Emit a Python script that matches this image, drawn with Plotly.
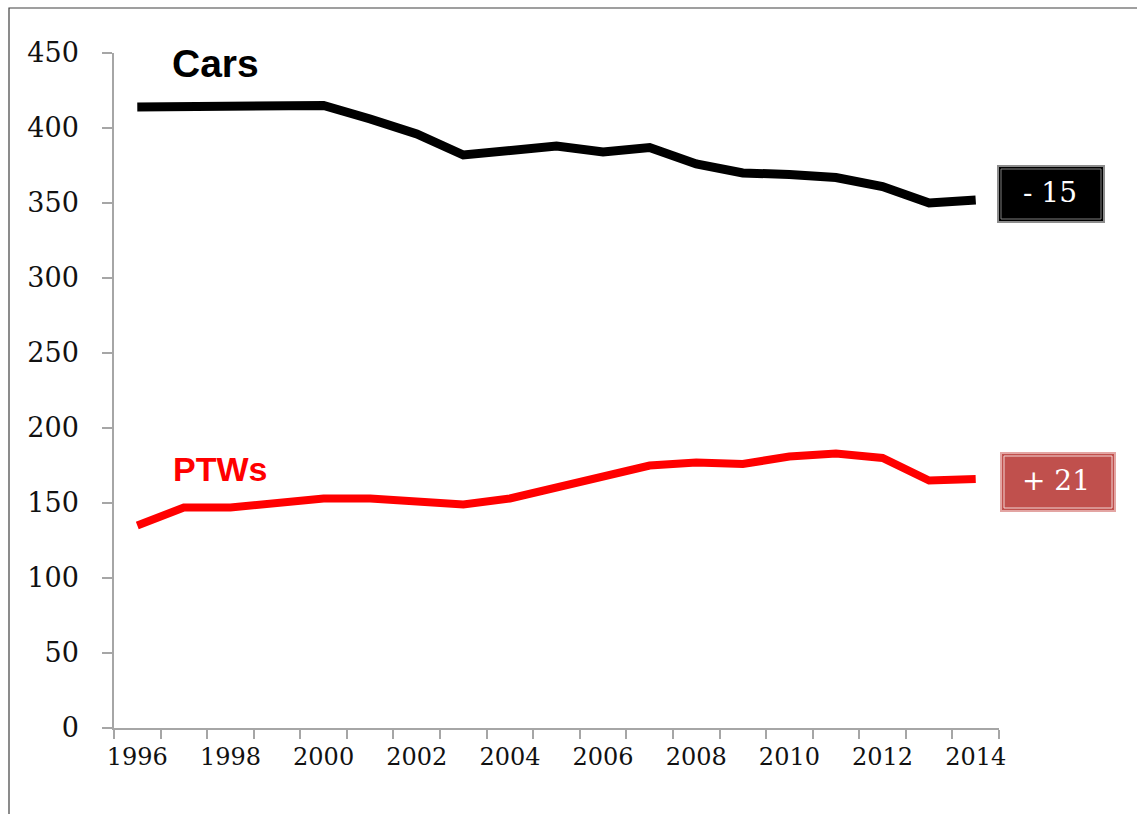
import plotly.graph_objects as go

# Annual values, 1996-2014
years = list(range(1996, 2015))
cars = [414, 414, 415, 415, 415, 406, 396, 382, 385, 388, 384, 387, 376, 370, 369, 367, 361, 350, 352]
ptws = [135, 147, 147, 150, 153, 153, 151, 149, 153, 160, 168, 175, 177, 176, 181, 183, 180, 165, 166]

y_ticks = list(range(0, 451, 50))
x_label_years = list(range(1996, 2015, 2))

car_change = "- 15"
ptw_change = "+ 21"

W, H = 1137, 814
L, R, T, B = 114, 138, 53, 86
PW, PH = W - L - R, H - T - B


def px(x):
    return (x - L) / PW


def py(y):
    return (H - B - y) / PH


fig = go.Figure()
fig.add_trace(go.Scatter(x=years, y=cars, mode="lines",
                         line=dict(color="#000000", width=9), name="Cars"))
fig.add_trace(go.Scatter(x=years, y=ptws, mode="lines",
                         line=dict(color="#FF0000", width=8), name="PTWs"))

shapes = []
# outer frame
shapes.append(dict(type="rect", xref="paper", yref="paper",
                   x0=px(9), x1=px(1145), y0=py(8), y1=py(830),
                   line=dict(color="#404040", width=1.2), fillcolor="rgba(0,0,0,0)"))
# change boxes
shapes.append(dict(type="rect", xref="paper", yref="paper",
                   x0=px(998), x1=px(1104), y0=py(166), y1=py(222),
                   line=dict(color="#8C8C8C", width=2), fillcolor="#000000"))
shapes.append(dict(type="rect", xref="paper", yref="paper",
                   x0=px(1001), x1=px(1101), y0=py(169), y1=py(219),
                   line=dict(color="#7F7F7F", width=1), fillcolor="rgba(0,0,0,0)"))
shapes.append(dict(type="rect", xref="paper", yref="paper",
                   x0=px(1001), x1=px(1115), y0=py(453), y1=py(511),
                   line=dict(color="#E3A5A3", width=2), fillcolor="#C0504D"))
shapes.append(dict(type="rect", xref="paper", yref="paper",
                   x0=px(1004), x1=px(1112), y0=py(456), y1=py(508),
                   line=dict(color="#F2D6D5", width=1), fillcolor="rgba(0,0,0,0)"))

annotations = [
    dict(text="<b>Cars</b>", xref="paper", yref="paper", x=px(170), y=py(64),
         xanchor="left", yanchor="middle", showarrow=False,
         font=dict(family="Liberation Sans, Arial", size=39, color="#000000")),
    dict(text="<b>PTWs</b>", xref="paper", yref="paper", x=px(171), y=py(469),
         xanchor="left", yanchor="middle", showarrow=False,
         font=dict(family="Liberation Sans, Arial", size=34, color="#FF0000")),
    dict(text=car_change, xref="paper", yref="paper", x=px(1050), y=py(193),
         xanchor="center", yanchor="middle", showarrow=False,
         font=dict(family="DejaVu Serif", size=28, color="#FFFFFF")),
    dict(text=ptw_change, xref="paper", yref="paper", x=px(1056), y=py(481),
         xanchor="center", yanchor="middle", showarrow=False,
         font=dict(family="DejaVu Serif", size=28, color="#FFFFFF")),
]

fig.update_layout(
    width=W, height=H,
    margin=dict(l=L, r=R, t=T, b=B, pad=0),
    paper_bgcolor="#FFFFFF", plot_bgcolor="#FFFFFF",
    showlegend=False,
    shapes=shapes, annotations=annotations,
)

fig.update_xaxes(
    range=[1995.5, 2014.5], tickvals=x_label_years,
    ticktext=[str(y) for y in x_label_years],
    ticks="", showgrid=False, zeroline=False,
    showline=True, linecolor="#A6A6A6", linewidth=1.5,
    tickfont=dict(family="DejaVu Serif", size=24, color="#111111"),
    ticklabelstandoff=6,
    minor=dict(tick0=1995.5, dtick=1, ticks="outside", ticklen=9,
               tickcolor="#A6A6A6", tickwidth=1.5, showgrid=False),
)
fig.update_yaxes(
    range=[0, 450], tickvals=y_ticks, ticks="outside", ticklen=10,
    tickcolor="#A6A6A6", tickwidth=1.5, showgrid=False, zeroline=False,
    showline=True, linecolor="#A6A6A6", linewidth=1.5,
    tickfont=dict(family="DejaVu Serif", size=27, color="#111111"),
    ticklabelstandoff=18,
)

fig.write_html("out.html")
